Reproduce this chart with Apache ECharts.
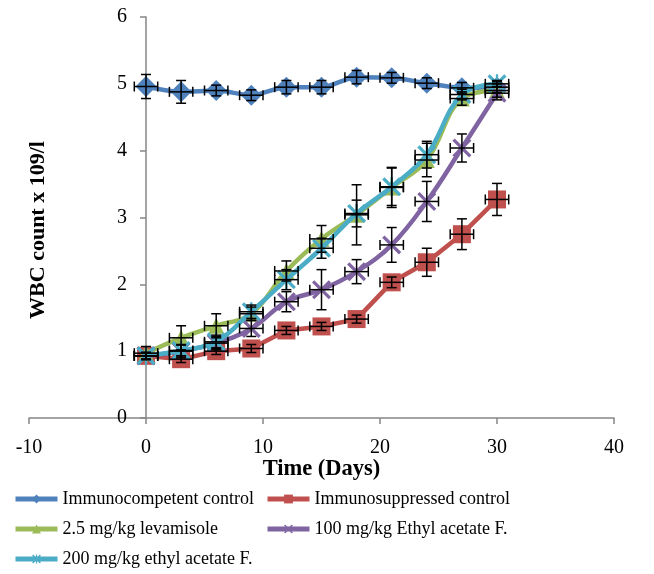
<!DOCTYPE html>
<html><head><meta charset="utf-8">
<script src="https://cdn.jsdelivr.net/npm/echarts@6/dist/echarts.min.js"></script>
<style>html,body{margin:0;padding:0;background:#fff}#c{width:654px;height:574px}</style>
</head><body><div id="c"></div>
<script>
const days = [0, 3, 6, 9, 12, 15, 18, 21, 24, 27, 30];
const seriesNames = ['Immunocompetent control', 'Immunosuppressed control', '2.5 mg/kg levamisole', '100 mg/kg Ethyl acetate F.', '200 mg/kg ethyl acetate F.'];
const immunocompetent = [4.96, 4.88, 4.90, 4.83, 4.95, 4.95, 5.10, 5.09, 5.01, 4.94, 4.95];
const immunosuppressed = [0.93, 0.88, 1.00, 1.04, 1.31, 1.37, 1.48, 2.03, 2.33, 2.75, 3.27];
const levamisole = [0.97, 1.20, 1.38, 1.56, 2.20, 2.68, 3.04, 3.45, 3.86, 4.78, 4.90];
const ethyl100 = [0.93, 1.00, 1.12, 1.34, 1.74, 1.92, 2.19, 2.59, 3.24, 4.04, 4.86];
const ethyl200 = [0.93, 1.01, 1.14, 1.59, 2.07, 2.54, 3.06, 3.46, 3.94, 4.84, 5.00];
const errImmunocompetent = [0.18, 0.17, 0.08, 0.08, 0.10, 0.10, 0.10, 0.08, 0.08, 0.08, 0.08];
const errImmunosuppressed = [0.05, 0.05, 0.05, 0.06, 0.06, 0.06, 0.06, 0.08, 0.21, 0.23, 0.24];
const errLevamisole = [0.10, 0.18, 0.18, 0.10, 0.15, 0.20, 0.45, 0.30, 0.25, 0.10, 0.10];
const errEthyl100 = [0.05, 0.10, 0.10, 0.12, 0.15, 0.30, 0.18, 0.26, 0.30, 0.21, 0.10];
const errEthyl200 = [0.05, 0.08, 0.10, 0.10, 0.15, 0.15, 0.20, 0.28, 0.20, 0.08, 0.05];
const xError = 1;
const xTicks = [-10, 0, 10, 20, 30, 40];
const yTicks = [0, 1, 2, 3, 4, 5, 6];

const values = [immunocompetent, immunosuppressed, levamisole, ethyl100, ethyl200];
const errors = [errImmunocompetent, errImmunosuppressed, errLevamisole, errEthyl100, errEthyl200];
const colors = ['#4F81BD', '#C0504D', '#9BBB59', '#8064A2', '#4BACC6'];
const xPath = 'path://M0,1.2L1.2,0L5,3.8L8.8,0L10,1.2L6.2,5L10,8.8L8.8,10L5,6.2L1.2,10L0,8.8L3.8,5Z';
const starPath = 'path://M0,1.2L1.2,0L5,3.8L8.8,0L10,1.2L6.2,5L10,8.8L8.8,10L5,6.2L1.2,10L0,8.8L3.8,5Z M4.4,0L5.6,0L5.6,10L4.4,10Z';
const symbols = ['diamond', 'rect', 'triangle', xPath, starPath];
const symbolSizes = [21, 18, 16, 19, 19];
const smooths = [0.3, false, 0.4, 0.4, 0.4];
const font = '"Liberation Serif", "Times New Roman", serif';

const gridLeft = 29, gridRight = 40;
const chartWidth = 654;
// place the y axis where x = 0 (as Excel does), including its labels
const yAxisOffset = -(0 - xTicks[0]) / (xTicks[xTicks.length - 1] - xTicks[0]) * (chartWidth - gridLeft - gridRight);

const series = [];
values.forEach((vals, i) => {
  series.push({
    name: seriesNames[i], type: 'line',
    data: days.map((d, k) => [d, vals[k]]),
    symbol: symbols[i], symbolSize: symbolSizes[i], showSymbol: true,
    smooth: smooths[i],
    lineStyle: { color: colors[i], width: 4.5 },
    itemStyle: { color: colors[i] },
    z: 2 + i
  });
});
errors.forEach((errs, i) => {
  series.push({
    type: 'custom', name: 'err' + i, z: 10,
    silent: true,
    data: days.map((d, k) => [d, values[i][k], errs[k]]),
    renderItem: function (params, api) {
      const x = api.value(0), y = api.value(1), e = api.value(2);
      const c = api.coord([x, y]);
      const top = api.coord([x, y + e]);
      const bot = api.coord([x, y - e]);
      const lft = api.coord([x - xError, y]);
      const rgt = api.coord([x + xError, y]);
      const cap = 5;
      const st = { stroke: '#000', lineWidth: 1.5 };
      return {
        type: 'group', children: [
          { type: 'line', shape: { x1: top[0], y1: top[1], x2: bot[0], y2: bot[1] }, style: st },
          { type: 'line', shape: { x1: c[0] - cap, y1: top[1], x2: c[0] + cap, y2: top[1] }, style: st },
          { type: 'line', shape: { x1: c[0] - cap, y1: bot[1], x2: c[0] + cap, y2: bot[1] }, style: st },
          { type: 'line', shape: { x1: lft[0], y1: c[1], x2: rgt[0], y2: c[1] }, style: st },
          { type: 'line', shape: { x1: lft[0], y1: c[1] - cap, x2: lft[0], y2: c[1] + cap }, style: st },
          { type: 'line', shape: { x1: rgt[0], y1: c[1] - cap, x2: rgt[0], y2: c[1] + cap }, style: st }
        ]
      };
    }
  });
});

const legendText = { fontFamily: font, fontSize: 18, color: '#000' };
const legendCommon = { orient: 'vertical', top: 490, padding: 0, itemWidth: 42, itemHeight: 11, itemGap: 12,
  textStyle: legendText, lineStyle: { width: 5 } };
const chart = echarts.init(document.getElementById('c'), null, { renderer: 'canvas' });
chart.setOption({
  animation: false,
  backgroundColor: '#fff',
  textStyle: { fontFamily: font },
  grid: { left: gridLeft, right: gridRight, top: 17, bottom: 156, containLabel: false, outerBoundsMode: 'none' },
  xAxis: {
    type: 'value', min: xTicks[0], max: xTicks[xTicks.length - 1], interval: 10,
    name: 'Time (Days)', nameLocation: 'middle', nameGap: 40, nameMoveOverlap: false,
    nameTextStyle: { fontFamily: font, fontSize: 22.5, fontWeight: 'bold', color: '#000' },
    axisLine: { onZero: true, lineStyle: { color: '#868686', width: 1.5 } },
    axisTick: { show: true, length: 6, lineStyle: { color: '#868686', width: 1.5 } },
    axisLabel: { fontFamily: font, fontSize: 20, color: '#000', margin: 20 },
    splitLine: { show: false }
  },
  yAxis: {
    type: 'value', min: yTicks[0], max: yTicks[yTicks.length - 1], interval: 1,
    position: 'left', offset: yAxisOffset,
    name: 'WBC count x 109/l', nameLocation: 'middle', nameGap: 97,
    nameTextStyle: { fontFamily: font, fontSize: 22, fontWeight: 'bold', color: '#000', padding: [0, 25, 0, 0] },
    axisLine: { onZero: false, lineStyle: { color: '#868686', width: 1.5 } },
    axisTick: { show: true, length: 6, lineStyle: { color: '#868686', width: 1.5 } },
    axisLabel: { fontFamily: font, fontSize: 20, color: '#000', margin: 19 },
    splitLine: { show: false }
  },
  legend: [
    Object.assign({ left: 13, height: 90, data: [seriesNames[0], seriesNames[2], seriesNames[4]] }, legendCommon),
    Object.assign({ left: 265, height: 90, data: [seriesNames[1], seriesNames[3]] }, legendCommon)
  ],
  series: series
});
</script></body></html>
